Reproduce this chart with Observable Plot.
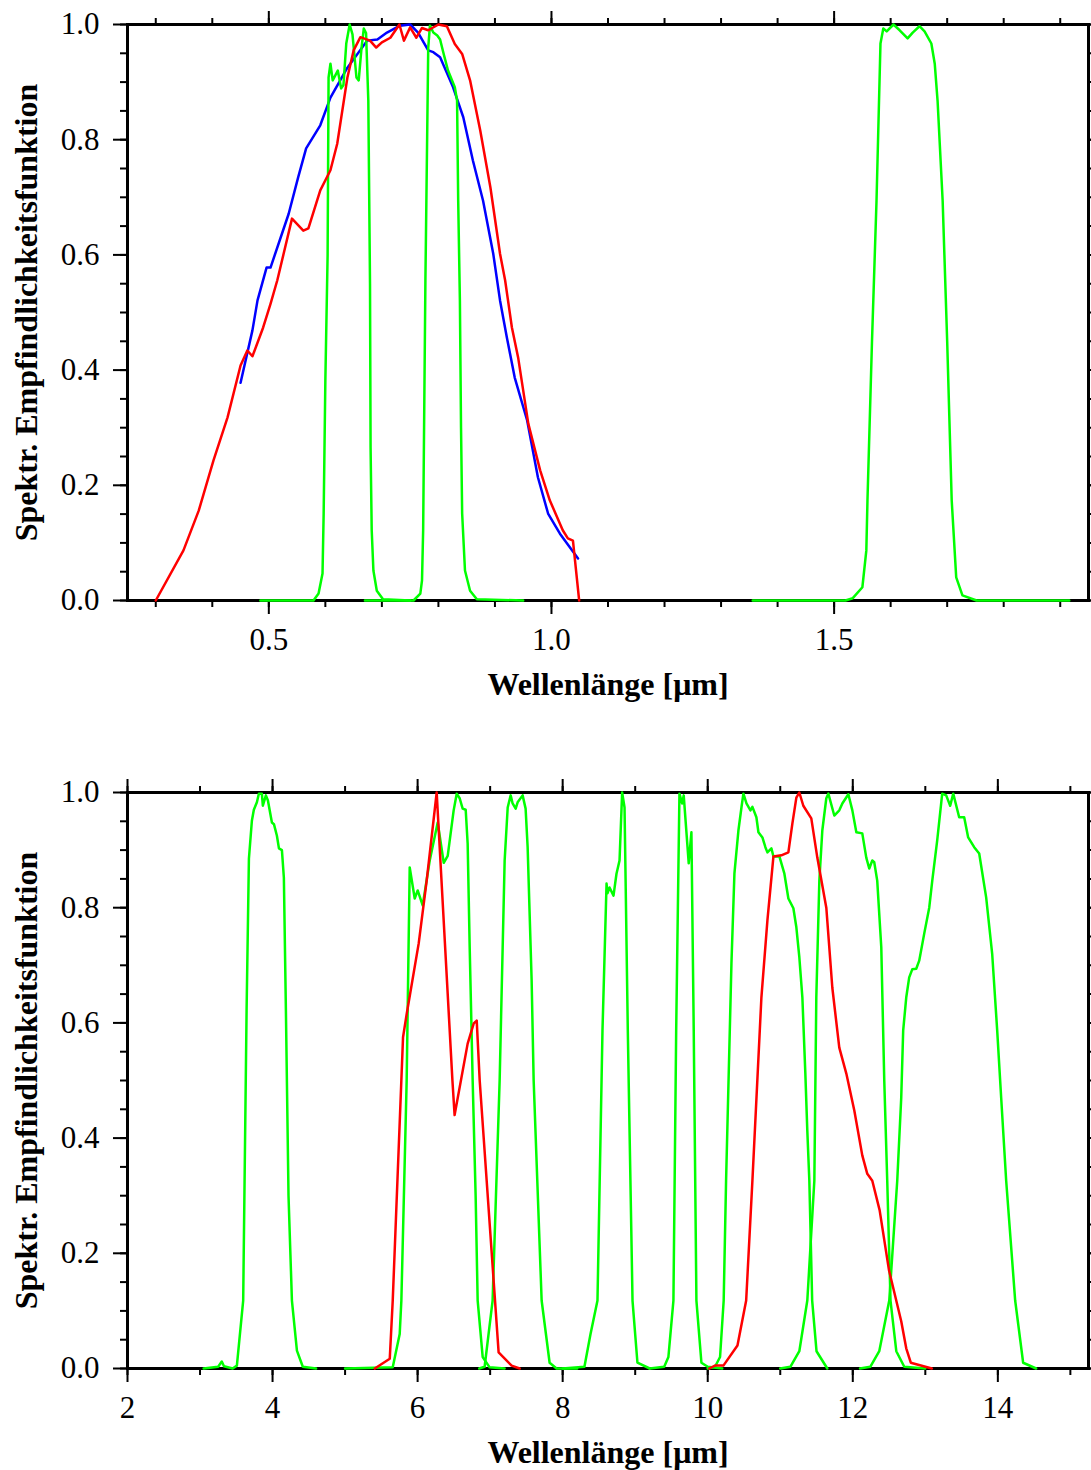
<!DOCTYPE html>
<html><head><meta charset="utf-8">
<script src="https://cdn.jsdelivr.net/npm/d3@7"></script>
<script src="https://cdn.jsdelivr.net/npm/@observablehq/plot@0.6"></script>
<style>body{margin:0;background:#fff} svg{display:block}</style>
</head><body><div id="c"></div><script>
// ---------- Top panel (visible / near IR) ----------
const hrvBlue = [[0.450,0.378],[0.471,0.469],[0.480,0.521],[0.496,0.578],[0.503,0.578],[0.535,0.671],[0.552,0.735],[0.566,0.785],[0.591,0.825],[0.609,0.873],[0.639,0.925],[0.674,0.972],[0.692,0.974],[0.709,0.986],[0.732,0.998],[0.750,1.0],[0.764,0.986],[0.782,0.955],[0.791,0.952],[0.803,0.943],[0.826,0.891],[0.844,0.839],[0.861,0.764],[0.879,0.694],[0.897,0.602],[0.909,0.521],[0.921,0.457],[0.935,0.387],[0.957,0.3125],[0.976,0.214],[0.994,0.151],[1.015,0.116],[1.047,0.073]];
const visRed = [[0.300,0],[0.349,0.087],[0.376,0.156],[0.402,0.243],[0.427,0.318],[0.450,0.408],[0.462,0.434],[0.471,0.424],[0.490,0.474],[0.503,0.515],[0.515,0.556],[0.541,0.663],[0.561,0.642],[0.570,0.646],[0.591,0.712],[0.609,0.747],[0.621,0.793],[0.639,0.908],[0.650,0.955],[0.662,0.978],[0.679,0.972],[0.690,0.960],[0.700,0.969],[0.715,0.977],[0.731,1.0],[0.739,0.972],[0.750,0.995],[0.761,0.977],[0.771,0.994],[0.782,0.990],[0.800,1.0],[0.815,0.997],[0.829,0.966],[0.842,0.949],[0.856,0.903],[0.874,0.816],[0.892,0.717],[0.909,0.602],[0.918,0.556],[0.930,0.474],[0.941,0.422],[0.959,0.307],[0.980,0.226],[0.997,0.174],[1.020,0.122],[1.029,0.108],[1.038,0.104],[1.049,0]];
const vis06Green = [[0.485,0],[0.579,0],[0.588,0.012],[0.595,0.047],[0.597,0.151],[0.600,0.382],[0.604,0.6],[0.6057,0.908],[0.609,0.932],[0.613,0.903],[0.622,0.92],[0.628,0.889],[0.632,0.895],[0.637,0.967],[0.643,1.0],[0.648,0.983],[0.655,0.908],[0.659,0.903],[0.664,0.96],[0.668,0.993],[0.672,0.985],[0.676,0.868],[0.679,0.55],[0.680,0.266],[0.682,0.122],[0.685,0.052],[0.691,0.017],[0.702,0.002],[0.750,0]];
const vis08Green = [[0.670,0],[0.756,0],[0.768,0.012],[0.771,0.035],[0.773,0.122],[0.777,0.556],[0.782,0.96],[0.785,0.998],[0.791,0.986],[0.798,0.981],[0.803,0.974],[0.809,0.95],[0.817,0.92],[0.829,0.891],[0.833,0.868],[0.835,0.694],[0.838,0.521],[0.840,0.3],[0.842,0.151],[0.847,0.052],[0.856,0.017],[0.868,0.002],[0.950,0]];
const nir16Green = [[1.356,0],[1.520,0],[1.533,0.004],[1.550,0.023],[1.557,0.087],[1.559,0.174],[1.567,0.45],[1.575,0.694],[1.582,0.967],[1.587,0.993],[1.593,0.988],[1.605,1.0],[1.616,0.99],[1.630,0.976],[1.639,0.986],[1.651,0.997],[1.660,0.988],[1.672,0.967],[1.678,0.932],[1.683,0.868],[1.692,0.694],[1.700,0.45],[1.708,0.174],[1.716,0.04],[1.727,0.009],[1.752,0],[1.916,0]];

// ---------- Bottom panel (thermal IR) ----------
const wvRed = [[5.409,0],[5.616,0.017],[5.657,0.118],[5.799,0.575],[5.850,0.616],[6.015,0.738],[6.125,0.847],[6.263,1.0],[6.480,0.5],[6.510,0.44],[6.690,0.564],[6.774,0.599],[6.815,0.604],[6.856,0.5],[7.117,0.028],[7.296,0.005],[7.407,0]];
const irRed = [[10.02,0],[10.10,0.005],[10.216,0.005],[10.41,0.04],[10.53,0.118],[10.616,0.326],[10.74,0.644],[10.823,0.778],[10.906,0.889],[11.015,0.891],[11.112,0.896],[11.167,0.946],[11.222,0.991],[11.263,1.0],[11.318,0.977],[11.428,0.955],[11.511,0.887],[11.635,0.8],[11.718,0.661],[11.814,0.557],[11.911,0.512],[12.021,0.448],[12.131,0.37],[12.2,0.338],[12.269,0.326],[12.37,0.275],[12.5,0.17],[12.668,0.082],[12.737,0.035],[12.8,0.01],[13.09,0]];
const ir39Green = [[3.05,0],[3.25,0.003],[3.30,0.012],[3.33,0.004],[3.45,0],[3.508,0.005],[3.595,0.118],[3.642,0.622],[3.674,0.885],[3.715,0.951],[3.742,0.97],[3.784,0.983],[3.811,0.998],[3.853,0.998],[3.866,0.977],[3.908,0.995],[3.936,0.986],[3.991,0.948],[4.019,0.945],[4.060,0.925],[4.088,0.903],[4.129,0.9],[4.156,0.852],[4.184,0.622],[4.22,0.3],[4.267,0.118],[4.336,0.031],[4.417,0.003],[4.6,0]];
const wv62Green = [[5.0,0],[5.657,0.002],[5.753,0.06],[5.776,0.118],[5.849,0.5],[5.891,0.87],[5.960,0.816],[6.001,0.83],[6.070,0.804],[6.167,0.882],[6.277,0.948],[6.360,0.878],[6.415,0.89],[6.497,0.969],[6.539,0.998],[6.580,0.99],[6.621,0.972],[6.663,0.97],[6.690,0.911],[6.718,0.731],[6.759,0.5],[6.80,0.3],[6.828,0.118],[6.897,0.02],[6.993,0.002],[7.2,0]];
const wv73Green = [[6.85,0],[6.924,0.003],[7.034,0.118],[7.131,0.5],[7.2,0.882],[7.242,0.974],[7.283,0.995],[7.31,0.981],[7.352,0.972],[7.379,0.983],[7.448,0.995],[7.489,0.972],[7.517,0.905],[7.572,0.674],[7.6,0.5],[7.71,0.118],[7.82,0.01],[7.916,0],[8.2,0]];
const ir87Green = [[8.0,0],[8.3,0.003],[8.384,0.06],[8.48,0.118],[8.549,0.587],[8.605,0.842],[8.618,0.825],[8.646,0.835],[8.701,0.821],[8.742,0.859],[8.784,0.882],[8.82,1.0],[8.853,0.974],[8.898,0.587],[8.963,0.118],[9.031,0.01],[9.2,0]];
const ir97Green = [[9.2,0],[9.40,0.003],[9.458,0.02],[9.527,0.118],[9.565,0.587],[9.61,0.998],[9.647,0.981],[9.669,0.995],[9.738,0.877],[9.775,0.931],[9.807,0.587],[9.844,0.118],[9.913,0.01],[10.0,0.003],[10.2,0]];
const ir108Green = [[10.0,0],[10.10,0.003],[10.17,0.02],[10.22,0.118],[10.253,0.326],[10.327,0.703],[10.368,0.859],[10.423,0.934],[10.465,0.974],[10.492,0.998],[10.534,0.981],[10.589,0.969],[10.616,0.975],[10.671,0.957],[10.699,0.931],[10.754,0.922],[10.795,0.905],[10.823,0.896],[10.878,0.903],[10.906,0.889],[10.988,0.889],[11.057,0.859],[11.112,0.816],[11.181,0.799],[11.222,0.766],[11.263,0.714],[11.305,0.644],[11.346,0.512],[11.373,0.413],[11.401,0.326],[11.44,0.118],[11.50,0.03],[11.649,0]];
const ir120Green = [[11.0,0],[11.139,0.003],[11.263,0.03],[11.373,0.118],[11.47,0.326],[11.497,0.644],[11.539,0.847],[11.58,0.934],[11.635,0.99],[11.663,0.998],[11.745,0.96],[11.814,0.969],[11.856,0.981],[11.939,0.997],[11.994,0.969],[12.049,0.931],[12.131,0.929],[12.186,0.887],[12.227,0.868],[12.269,0.882],[12.296,0.879],[12.337,0.847],[12.393,0.731],[12.434,0.5],[12.475,0.326],[12.52,0.118],[12.60,0.03],[12.71,0.003],[13.0,0]];
const ir134Green = [[12.1,0],[12.241,0.003],[12.365,0.03],[12.503,0.118],[12.613,0.326],[12.668,0.47],[12.695,0.587],[12.737,0.644],[12.778,0.679],[12.82,0.693],[12.875,0.694],[12.916,0.708],[12.985,0.755],[13.054,0.8],[13.096,0.847],[13.164,0.917],[13.233,0.998],[13.288,0.995],[13.343,0.977],[13.385,0.998],[13.467,0.957],[13.536,0.957],[13.591,0.922],[13.674,0.905],[13.743,0.894],[13.839,0.818],[13.922,0.72],[13.991,0.587],[14.046,0.47],[14.115,0.326],[14.239,0.118],[14.349,0.01],[14.528,0]];

// ---------- axes / labels ----------
const topDomain = [0.25, 1.95];
const topMinorTicks = [0.3,0.4,0.5,0.6,0.7,0.8,0.9,1.0,1.1,1.2,1.3,1.4,1.5,1.6,1.7,1.8,1.9];
const topMajorTicks = [0.5, 1.0, 1.5];
const botDomain = [2, 15.25];
const botMinorTicks = [2,3,4,5,6,7,8,9,10,11,12,13,14,15];
const botMajorTicks = [2,4,6,8,10,12,14];
const yMinorTicks = [0,0.05,0.1,0.15,0.2,0.25,0.3,0.35,0.4,0.45,0.5,0.55,0.6,0.65,0.7,0.75,0.8,0.85,0.9,0.95,1.0];
const yMajorTicks = [0,0.2,0.4,0.6,0.8,1.0];
const xTitle = "Wellenlänge [μm]";
const yTitle = "Spektr. Empfindlichkeitsfunktion";

const FONT = "'Liberation Serif','Times New Roman',Times,serif";

function panel({domain, minorX, majorX, fmtX, greens, blues, reds, marginTop, marginBottom}) {
  const blank = () => "";
  const tk = {strokeWidth: 2, label: null, fontSize: 31, fontFamily: FONT, fill: "black", stroke: "black"};
  const line = (d, c) => Plot.line(d, {x: p => p[0], y: p => p[1], stroke: c, strokeWidth: 2.5, strokeLinejoin: "round"});
  return Plot.plot({
    width: 1091, height: 735,
    marginLeft: 127, marginRight: 3, marginTop, marginBottom,
    style: {background: "white", overflow: "visible", fontFamily: FONT},
    x: {domain}, y: {domain: [0, 1]},
    marks: [
      Plot.axisY({...tk, ticks: yMinorTicks, tickSize: 7, tickFormat: blank}),
      Plot.axisY({...tk, ticks: yMajorTicks, tickSize: 14, tickPadding: 14, tickFormat: d3.format(".1f")}),
      Plot.axisY({...tk, anchor: "right", ticks: yMinorTicks, tickSize: 7, tickFormat: blank}),
      Plot.axisY({...tk, anchor: "right", ticks: yMajorTicks, tickSize: 14, tickFormat: blank}),
      Plot.axisX({...tk, ticks: minorX, tickSize: 7, tickFormat: blank}),
      Plot.axisX({...tk, ticks: majorX, tickSize: 14, tickPadding: 13, tickFormat: fmtX}),
      Plot.axisX({...tk, anchor: "top", ticks: minorX, tickSize: 7, tickFormat: blank}),
      Plot.axisX({...tk, anchor: "top", ticks: majorX, tickSize: 14, tickFormat: blank}),
      Plot.frame({stroke: "black", strokeWidth: 3}),
      ...blues.map(d => line(d, "#0000ff")),
      ...greens.map(d => line(d, "#00ff00")),
      ...reds.map(d => line(d, "#ff0000")),
      Plot.text([xTitle], {text: d => d, frameAnchor: "bottom", dy: 84, lineAnchor: "middle", fontWeight: "bold", fontSize: 32, fontFamily: FONT, fill: "black"}),
      Plot.text([yTitle], {text: d => d, frameAnchor: "left", dx: -101, rotate: -90, lineAnchor: "middle", textAnchor: "middle", fontWeight: "bold", fontSize: 32, fontFamily: FONT, fill: "black"})
    ]
  });
}

const c = document.getElementById("c");
c.append(panel({domain: topDomain, minorX: topMinorTicks, majorX: topMajorTicks, fmtX: d3.format(".1f"),
  greens: [vis06Green, vis08Green, nir16Green], blues: [hrvBlue], reds: [visRed], marginTop: 24, marginBottom: 135}));
c.append(panel({domain: botDomain, minorX: botMinorTicks, majorX: botMajorTicks, fmtX: d3.format("d"),
  greens: [ir39Green, wv62Green, wv73Green, ir87Green, ir97Green, ir108Green, ir120Green, ir134Green], blues: [], reds: [wvRed, irRed], marginTop: 57, marginBottom: 102}));
</script></body></html>
